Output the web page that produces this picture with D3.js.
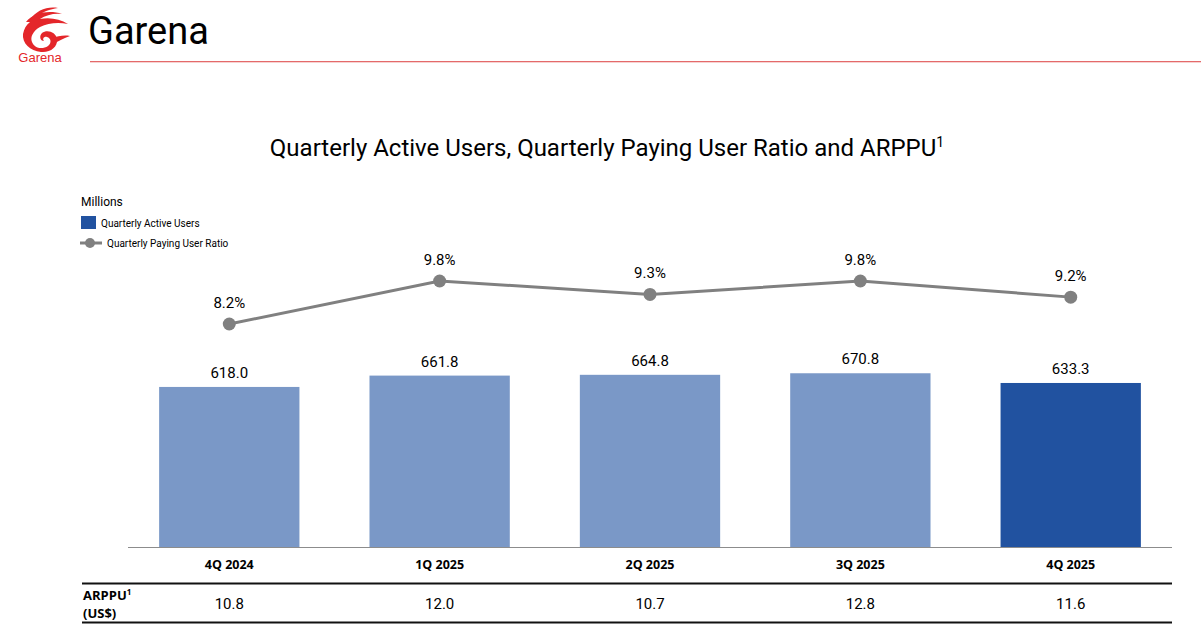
<!DOCTYPE html>
<html><head><meta charset="utf-8">
<script src="https://cdn.jsdelivr.net/npm/d3@7"></script>
<style>body{margin:0;background:#fff}svg{display:block}</style>
</head><body>
<svg id="c" width="1201" height="639"></svg>
<script>
const categories = ["4Q 2024","1Q 2025","2Q 2025","3Q 2025","4Q 2025"];
const activeUsers = [618.0, 661.8, 664.8, 670.8, 633.3];
const payingRatio = [8.2, 9.8, 9.3, 9.8, 9.2];
const arppu = [10.8, 12.0, 10.7, 12.8, 11.6];
const highlight = [false,false,false,false,true];

const svg = d3.select("#c");
const F = "Roboto, 'Open Sans', sans-serif";
const FB = "'Open Sans', Roboto, sans-serif";

// Header
const logo = svg.append("g").attr("fill","#e4262a");
logo.append("path").attr("d","M26,22 C34,12 50,10 62,14 C54,13 46,15 40,19 C50,17 60,19 68,24 C58,22 48,23 40,27 C33,31 30,37 32,42 C34,48 42,50 48,46 C52,43 51,38 47,37 C44,36 42,39 44,41 C40,41 39,36 42,33 C47,29 56,32 57,39 C58,47 50,53 41,52 C30,51 22,43 23,34 C24,29 26,25 30,22 Z");
logo.append("path").attr("d","M30,20 C36,10 48,6 58,8 C50,9 42,12 36,17 Z");
logo.append("path").attr("d","M52,38 C58,36 64,35 70,36 C64,38 58,41 54,44 Z");
svg.append("text").attr("x",40).attr("y",62).attr("text-anchor","middle")
  .attr("font-family","Liberation Sans, Arial, sans-serif").attr("font-size",13).attr("fill","#e4262a").text("Garena");
svg.append("text").attr("x",88).attr("y",44).attr("font-family",F).attr("font-size",38).attr("fill","#000").text("Garena");
svg.append("rect").attr("x",90).attr("width",1111).attr("y",61).attr("height",1.3).attr("fill","#e46a6a");

// Title
const t = svg.append("text").attr("x",607).attr("y",156).attr("text-anchor","middle")
  .attr("font-family",F).attr("font-size",24).attr("fill","#000");
t.append("tspan").text("Quarterly Active Users, Quarterly Paying User Ratio and ARPPU");
t.append("tspan").attr("font-size",14).attr("dy",-9).text("1");

// Legend
svg.append("text").attr("x",81).attr("y",206).attr("font-family",F).attr("font-size",12).attr("fill","#000").text("Millions");
svg.append("rect").attr("x",81).attr("y",216).attr("width",15).attr("height",13).attr("fill","#2152a0");
svg.append("text").attr("x",101).attr("y",227).attr("font-family",F).attr("font-size",10).attr("fill","#000").text("Quarterly Active Users");
svg.append("line").attr("x1",80).attr("x2",102).attr("y1",243).attr("y2",243).attr("stroke","#808080").attr("stroke-width",3);
svg.append("circle").attr("cx",90).attr("cy",243).attr("r",5).attr("fill","#808080");
svg.append("text").attr("x",107).attr("y",247).attr("font-family",F).attr("font-size",10).attr("fill","#000").text("Quarterly Paying User Ratio");

// Scales
const x = d3.scaleBand().domain(categories).range([124,1176]).paddingInner(0.333).paddingOuter(0.167);
const yBar = d3.scaleLinear().domain([0,700]).range([547,365.7]);
const yLine = d3.scaleLinear().domain([8.2,9.8]).range([324,281]);

// Bars
svg.selectAll("rect.bar").data(activeUsers).join("rect").attr("class","bar")
  .attr("x",(d,i)=>x(categories[i])).attr("width",x.bandwidth())
  .attr("y",d=>yBar(d)).attr("height",d=>yBar(0)-yBar(d))
  .attr("fill",(d,i)=>highlight[i]?"#2152a0":"#7a98c7");
svg.selectAll("text.bl").data(activeUsers).join("text").attr("class","bl")
  .attr("x",(d,i)=>x(categories[i])+x.bandwidth()/2).attr("y",d=>yBar(d)-9)
  .attr("text-anchor","middle").attr("font-family",F).attr("font-size",15).attr("fill","#000")
  .text(d=>d.toFixed(1));

// Axis baseline
svg.append("line").attr("x1",128).attr("x2",1172).attr("y1",547.5).attr("y2",547.5).attr("stroke","#8c8c8c").attr("stroke-width",1);

// Line
const cx = i=>x(categories[i])+x.bandwidth()/2;
svg.append("path").datum(payingRatio)
  .attr("d",d3.line().x((d,i)=>cx(i)).y(d=>yLine(d)))
  .attr("fill","none").attr("stroke","#808080").attr("stroke-width",3);
svg.selectAll("circle.pt").data(payingRatio).join("circle").attr("class","pt")
  .attr("cx",(d,i)=>cx(i)).attr("cy",d=>yLine(d)).attr("r",6.5).attr("fill","#808080");
svg.selectAll("text.pl").data(payingRatio).join("text").attr("class","pl")
  .attr("x",(d,i)=>cx(i)).attr("y",d=>yLine(d)-16)
  .attr("text-anchor","middle").attr("font-family",F).attr("font-size",15).attr("fill","#000")
  .text(d=>d.toFixed(1)+"%");

// Category labels
svg.selectAll("text.cat").data(categories).join("text").attr("class","cat")
  .attr("x",(d,i)=>cx(i)).attr("y",569).attr("text-anchor","middle")
  .attr("font-family",FB).attr("font-size",12.5).attr("font-weight","bold").attr("fill","#000").text(d=>d);

// Table
svg.append("line").attr("x1",82).attr("x2",1172).attr("y1",583.5).attr("y2",583.5).attr("stroke","#111").attr("stroke-width",2);
svg.append("line").attr("x1",82).attr("x2",1172).attr("y1",622.5).attr("y2",622.5).attr("stroke","#111").attr("stroke-width",2);
const a = svg.append("text").attr("x",83).attr("y",600).attr("font-family",FB).attr("font-size",13).attr("font-weight","bold").attr("fill","#000");
a.append("tspan").text("ARPPU");
a.append("tspan").attr("font-size",8).attr("dy",-5).text("1");
svg.append("text").attr("x",83).attr("y",618).attr("font-family",FB).attr("font-size",13).attr("font-weight","bold").attr("fill","#000").text("(US$)");
svg.selectAll("text.ar").data(arppu).join("text").attr("class","ar")
  .attr("x",(d,i)=>cx(i)).attr("y",609).attr("text-anchor","middle")
  .attr("font-family",F).attr("font-size",15).attr("fill","#000").text(d=>d.toFixed(1));
</script>
</body></html>
